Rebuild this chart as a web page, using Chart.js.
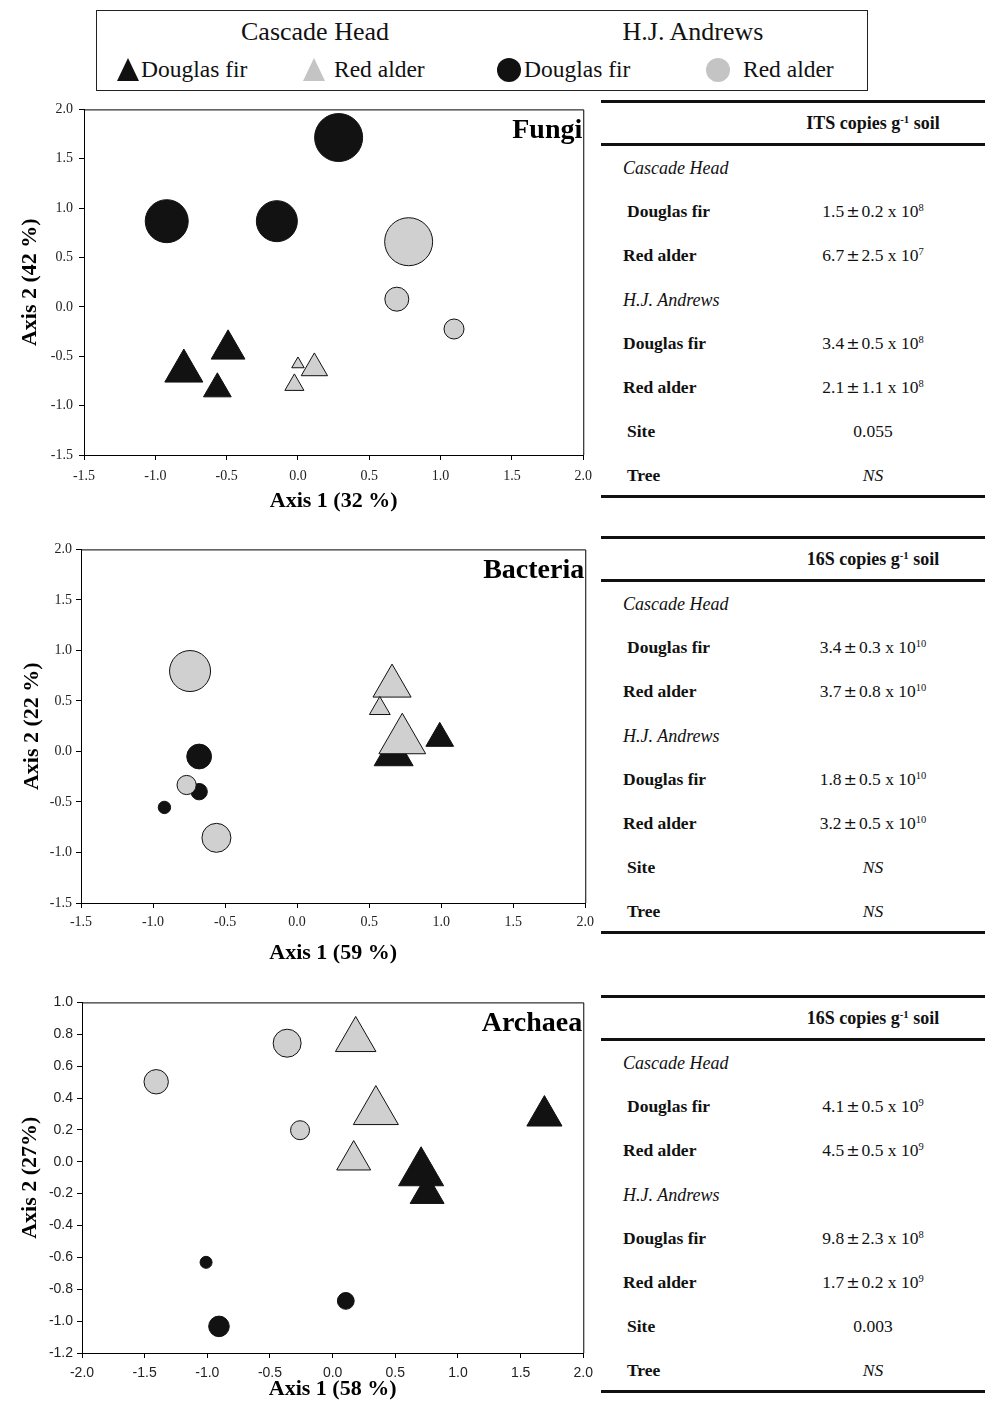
<!DOCTYPE html>
<html>
<head>
<meta charset="utf-8">
<title>Fungi, Bacteria, Archaea ordination</title>
<script src="https://cdn.jsdelivr.net/npm/chart.js@4.4.1/dist/chart.umd.min.js"></script>
<style>
  html, body { margin: 0; padding: 0; background: #fff; }
  body {
    position: relative; width: 985px; height: 1401px; overflow: hidden;
    font-family: "Liberation Serif", "Times New Roman", serif; color: #111;
  }
  .abs { position: absolute; white-space: nowrap; line-height: 1; }
  .mid { transform: translateY(-50%); }
  .ctr { transform: translate(-50%, -50%); }
  #legendBox { left: 96px; top: 10px; width: 770px; height: 79px; border: 1px solid #222; }
  .lgHead { font-size: 26px; }
  .lgItem { font-size: 23.5px; }
  .tri { width: 0; height: 0; border-left: 11.5px solid transparent; border-right: 11.5px solid transparent; border-bottom: 23px solid #111; }
  .dot { width: 24px; height: 24px; border-radius: 50%; background: #111; }
  .panel { position: absolute; left: 0; width: 600px; }
  .panel canvas { display: block; }
  .tbl { position: absolute; left: 601px; width: 384px; height: 400px; }
  .rule { position: absolute; left: 0; width: 384px; height: 3px; background: #111; }
  .th { font-weight: bold; font-size: 18px; }
  .lab { font-weight: bold; font-size: 17.5px; }
  .grp { font-style: italic; font-size: 18px; }
  .val { font-size: 17.5px; }
  .val sup, .th sup { font-size: 0.6em; vertical-align: 0.55em; line-height: 0; }
  .pm { font-family: "DejaVu Sans", sans-serif; font-size: 16px; margin: 0 2px; }
</style>
</head>
<body>

<!-- legend -->
<div id="legendBox" class="abs"></div>
<div class="abs ctr lgHead" style="left:315px; top:32px;">Cascade Head</div>
<div class="abs ctr lgHead" style="left:693px; top:32px;">H.J. Andrews</div>
<div class="abs tri" style="left:117px; top:58px;"></div>
<div class="abs mid lgItem" style="left:141px; top:70px;">Douglas fir</div>
<div class="abs tri" style="left:303px; top:58px; border-bottom-color:#c4c4c4;"></div>
<div class="abs mid lgItem" style="left:334px; top:70px;">Red alder</div>
<div class="abs dot" style="left:497px; top:58px;"></div>
<div class="abs mid lgItem" style="left:524px; top:70px;">Douglas fir</div>
<div class="abs dot" style="left:706px; top:58px; background:#c4c4c4;"></div>
<div class="abs mid lgItem" style="left:743px; top:70px;">Red alder</div>

<div class="panel" style="top:95px; height:430px;"><canvas id="fungiChart" width="600" height="430"></canvas></div>
<div class="panel" style="top:537px; height:433px;"><canvas id="bacteriaChart" width="600" height="433"></canvas></div>
<div class="panel" style="top:990px; height:411px;"><canvas id="archaeaChart" width="600" height="411"></canvas></div>

<script>
// groupes : site + essence
const groups = ['Cascade Head Douglas fir', 'Cascade Head Red alder', 'H.J. Andrews Douglas fir', 'H.J. Andrews Red alder'];

// points [axe 1, axe 2, taille de bulle]
const fungiChDf  = [[-0.80, -0.65, 22], [-0.49, -0.43, 19.5], [-0.565, -0.83, 16]];
const fungiChRa  = [[0.00, -0.58, 7.2], [0.115, -0.62, 15.2], [-0.025, -0.79, 11]];
const fungiHjaDf = [[0.285, 1.715, 24], [-0.92, 0.868, 21.5], [-0.148, 0.868, 20.5]];
const fungiHjaRa = [[0.776, 0.66, 24], [0.693, 0.078, 12], [1.094, -0.224, 10]];

const bactChDf  = [[0.67, -0.03, 22.5], [0.99, 0.13, 16]];
const bactChRa  = [[0.659, 0.647, 22], [0.574, 0.425, 12], [0.73, 0.111, 27]];
const bactHjaDf = [[-0.68, -0.05, 12.4], [-0.68, -0.398, 8.2], [-0.921, -0.554, 6.2]];
const bactHjaRa = [[-0.743, 0.796, 20.5], [-0.767, -0.332, 9.6], [-0.56, -0.855, 14.5]];

const archChDf  = [[1.69, 0.288, 20.3], [0.706, -0.069, 26], [0.754, -0.2, 19.6]];
const archChRa  = [[0.184, 0.765, 23.4], [0.345, 0.315, 26], [0.168, 0.01, 19.6]];
const archHjaDf = [[-1.01, -0.631, 6], [0.105, -0.873, 8.4], [-0.907, -1.033, 10.3]];
const archHjaRa = [[-0.363, 0.744, 14], [-1.408, 0.502, 12.2], [-0.26, 0.198, 9.5]];

// tableaux : [moyenne, erreur, exposant]
const rowLabels = ['Cascade Head', 'Douglas fir', 'Red alder', 'H.J. Andrews', 'Douglas fir', 'Red alder', 'Site', 'Tree'];
const fungiCopies = [[1.5, 0.2, 8], [6.7, 2.5, 7], [3.4, 0.5, 8], [2.1, 1.1, 8]];
const bactCopies  = [[3.4, 0.3, 10], [3.7, 0.8, 10], [1.8, 0.5, 10], [3.2, 0.5, 10]];
const archCopies  = [[4.1, 0.5, 9], [4.5, 0.5, 9], [9.8, 2.3, 8], [1.7, 0.2, 9]];
const fungiTests = ['0.055', 'NS'];
const bactTests  = ['NS', 'NS'];
const archTests  = ['0.003', 'NS'];

const BLACK = '#121212';
const GREY = '#d0d0d0';

Chart.defaults.font.family = '"Liberation Serif", "Times New Roman", serif';
Chart.defaults.color = '#222';

const toBubbles = arr => arr.map(([x, y, r]) => ({ x, y, r }));
const fmt = v => (Math.abs(v) < 1e-9 ? 0 : v).toFixed(1);

// cadre complet + nom du panneau
const framePlugin = {
    id: 'frame',
    afterDraw(chart, args, opts) {
        const { ctx, chartArea: { left, right, top, bottom } } = chart;
        ctx.save();
        ctx.strokeStyle = '#000';
        ctx.lineWidth = 1;
        ctx.beginPath();
        ctx.moveTo(left, top + 0.5);
        ctx.lineTo(right + 0.5, top + 0.5);
        ctx.lineTo(right + 0.5, bottom);
        ctx.stroke();
        ctx.font = 'bold 28px "Liberation Serif"';
        ctx.fillStyle = '#000';
        ctx.textAlign = 'right';
        ctx.textBaseline = 'alphabetic';
        ctx.fillText(opts.text, right - 1, top + 29);
        ctx.restore();
    }
};

function makeChart(id, p) {
    const tickFont = { family: p.tickFamily, size: p.tickSize };
    const titleFont = { family: '"Liberation Serif"', size: 22, weight: 'bold' };
    const axisGrid = { drawOnChartArea: false, drawTicks: true, tickLength: 5, color: '#000' };
    const series = [
        { data: p.chDf, style: 'triangle', fill: BLACK, order: 2 },
        { data: p.chRa, style: 'triangle', fill: GREY, order: 1 },
        { data: p.hjaDf, style: 'circle', fill: BLACK, order: 2 },
        { data: p.hjaRa, style: 'circle', fill: GREY, order: 1 }
    ];
    return new Chart(document.getElementById(id), {
        type: 'bubble',
        data: {
            datasets: series.map((s, i) => ({
                label: groups[i],
                data: toBubbles(s.data),
                pointStyle: s.style,
                backgroundColor: s.fill,
                borderColor: '#111',
                borderWidth: 1,
                order: s.order
            }))
        },
        options: {
            responsive: false,
            animation: false,
            events: [],
            layout: { autoPadding: false, padding: { top: p.padTop, right: p.padRight, left: 0, bottom: 0 } },
            plugins: {
                legend: { display: false },
                tooltip: { enabled: false },
                frame: { text: p.name }
            },
            scales: {
                x: {
                    type: 'linear', min: p.xMin, max: p.xMax,
                    ticks: { stepSize: 0.5, callback: fmt, font: tickFont, padding: p.xTickPad, maxRotation: 0, autoSkip: false },
                    grid: axisGrid,
                    border: { display: true, color: '#000', width: 1 },
                    title: { display: true, text: p.xTitle, font: titleFont, color: '#000', padding: { top: 0, bottom: p.xTitlePad } },
                    afterFit(s) { s.height = p.xHeight; }
                },
                y: {
                    type: 'linear', min: p.yMin, max: p.yMax,
                    ticks: { stepSize: p.yStep, callback: fmt, font: tickFont, padding: p.yTickPad, autoSkip: false },
                    grid: axisGrid,
                    border: { display: true, color: '#000', width: 1 },
                    title: { display: true, text: p.yTitle, font: titleFont, color: '#000', padding: { top: p.yTitlePad, bottom: 0 } },
                    afterFit(s) { s.width = p.yWidth; }
                }
            }
        },
        plugins: [framePlugin]
    });
}

makeChart('fungiChart', {
    name: 'Fungi', chDf: fungiChDf, chRa: fungiChRa, hjaDf: fungiHjaDf, hjaRa: fungiHjaRa,
    xMin: -1.5, xMax: 2.0, yMin: -1.5, yMax: 2.0, yStep: 0.5,
    xTitle: 'Axis 1 (32 %)', yTitle: 'Axis 2 (42 %)', tickFamily: '"Liberation Serif"', tickSize: 14,
    padTop: 12, padRight: 15, yWidth: 84, xHeight: 70,
    xTickPad: 8, yTickPad: 6, xTitlePad: 10, yTitlePad: 17
});

makeChart('bacteriaChart', {
    name: 'Bacteria', chDf: bactChDf, chRa: bactChRa, hjaDf: bactHjaDf, hjaRa: bactHjaRa,
    xMin: -1.5, xMax: 2.0, yMin: -1.5, yMax: 2.0, yStep: 0.5,
    xTitle: 'Axis 1 (59 %)', yTitle: 'Axis 2 (22 %)', tickFamily: '"Liberation Serif"', tickSize: 14,
    padTop: 12, padRight: 14, yWidth: 81, xHeight: 67,
    xTickPad: 6, yTickPad: 4, xTitlePad: 3, yTitlePad: 19
});

makeChart('archaeaChart', {
    name: 'Archaea', chDf: archChDf, chRa: archChRa, hjaDf: archHjaDf, hjaRa: archHjaRa,
    xMin: -2.0, xMax: 2.0, yMin: -1.2, yMax: 1.0, yStep: 0.2,
    xTitle: 'Axis 1 (58 %)', yTitle: 'Axis 2 (27%)', tickFamily: '"Liberation Sans", Arial, sans-serif', tickSize: 14,
    padTop: 10, padRight: 14, yWidth: 82, xHeight: 48,
    xTickPad: 7, yTickPad: 4, xTitlePad: -2, yTitlePad: 17
});

// tableaux de droite
function buildTable(top, marker, copies, tests) {
    const t = document.createElement('div');
    t.className = 'tbl';
    t.style.top = top + 'px';
    const add = (cls, html, left, y, centre) => {
        const d = document.createElement('div');
        d.className = 'abs ' + cls + (centre ? ' ctr' : ' mid');
        d.style.left = left + 'px';
        d.style.top = y + 'px';
        d.innerHTML = html;
        t.appendChild(d);
    };
    [0, 43, 395].forEach(y => {
        const r = document.createElement('div');
        r.className = 'rule';
        r.style.top = y + 'px';
        t.appendChild(r);
    });
    add('th', marker + ' copies g<sup>-1</sup> soil', 272, 23, true);
    const indent = [22, 26, 22, 22, 22, 22, 26, 26];
    const values = [null, copies[0], copies[1], null, copies[2], copies[3]];
    rowLabels.forEach((lab, i) => {
        const y = 68 + 44 * i;
        const italic = (i === 0 || i === 3);
        add(italic ? 'grp' : 'lab', lab, indent[i], y, false);
        if (i < 6 && values[i]) {
            const [m, se, e] = values[i];
            add('val', m.toFixed(1) + '<span class="pm">±</span>' + se.toFixed(1) + ' x 10<sup>' + e + '</sup>', 272, y, true);
        } else if (i >= 6) {
            const txt = tests[i - 6];
            add('val', txt === 'NS' ? '<i>NS</i>' : txt, 272, y, true);
        }
    });
    document.body.appendChild(t);
}

buildTable(100, 'ITS', fungiCopies, fungiTests);
buildTable(536, '16S', bactCopies, bactTests);
buildTable(995, '16S', archCopies, archTests);
</script>
</body>
</html>
